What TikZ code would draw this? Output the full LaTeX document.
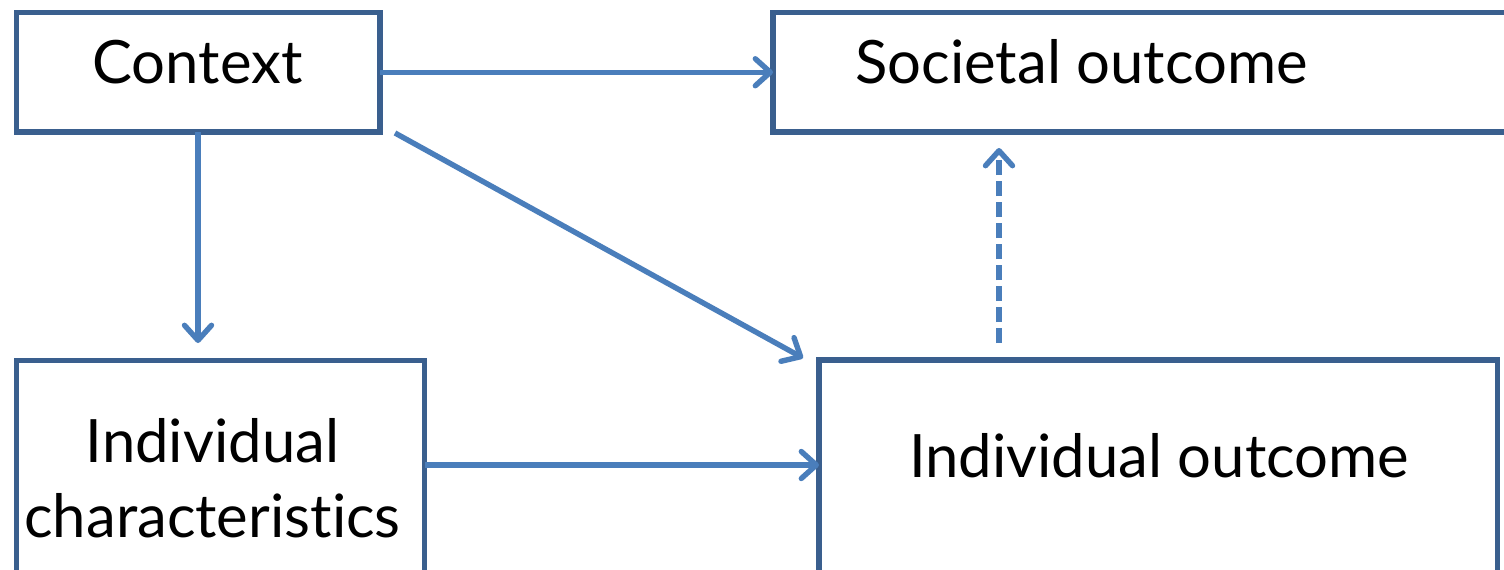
\documentclass[tikz,border=0pt]{standalone}
\usepackage{fontspec}
\setmainfont{Lato}[Ligatures=NoCommon]
\usetikzlibrary{arrows.meta}
\definecolor{boxblue}{HTML}{3A5F8E}
\definecolor{arrowblue}{HTML}{4A7EBB}
\tikzset{
  box/.style={draw=boxblue, line width=5.5pt, rectangle, inner sep=0pt, outer sep=0pt},
  txt/.style={inner sep=0pt, anchor=base, font=\fontsize{59.8}{70}\selectfont},
  link/.style={draw=arrowblue, line width=5.4pt,
    -{Straight Barb[length=15pt, width=27pt, round]}},
  dashedlink/.style={link, dash pattern=on 15pt off 6pt}
}
\begin{document}
\begin{tikzpicture}[x=1pt, y=-1pt]
  \useasboundingbox (0,0) rectangle (1504,570);
  \fill[white] (0,0) rectangle (1504,570);
  \clip (0,0) rectangle (1504,570);

  % boxes
  \node[box, minimum width=363.5pt, minimum height=119.5pt] (ctx) at (198.25,72.25) {};
  \node[box, minimum width=745pt, minimum height=119.5pt] (soc) at (1145.5,72.25) {};
  \node[box, minimum width=408pt, minimum height=230pt] (ic) at (220.5,475.5) {};
  \node[box, minimum width=678.5pt, minimum height=230pt] (io) at (1158.25,475) {};

  % labels
  \node[txt] (ctxT) at (197.5,83) {Context};
  \node[txt] (socT) at (1081.5,83) {Societal outcome};
  \node[txt] (icT1) at (212.5,462) {Individual};
  \node[txt] (icT2) at (212.5,537) {characteristics};
  \node[txt] (ioT) at (1159,477) {Individual outcome};

  % free ends of connectors
  \coordinate (icIn) at (198,343);
  \coordinate (diagA) at (395,133);
  \coordinate (diagB) at (803,358);
  \coordinate (dashA) at (999,343);
  \coordinate (dashB) at (999,148);

  % connectors
  \draw[link] (ctx.east) -- (soc.west);
  \draw[link] (ctx.south -| icIn) -- (icIn);
  \draw[link] (diagA) -- (diagB);
  \draw[link] (ic.east |- 0,465) -- (io.west |- 0,465);
  \draw[dashedlink] (dashA) -- (dashB);
\end{tikzpicture}
\end{document}
